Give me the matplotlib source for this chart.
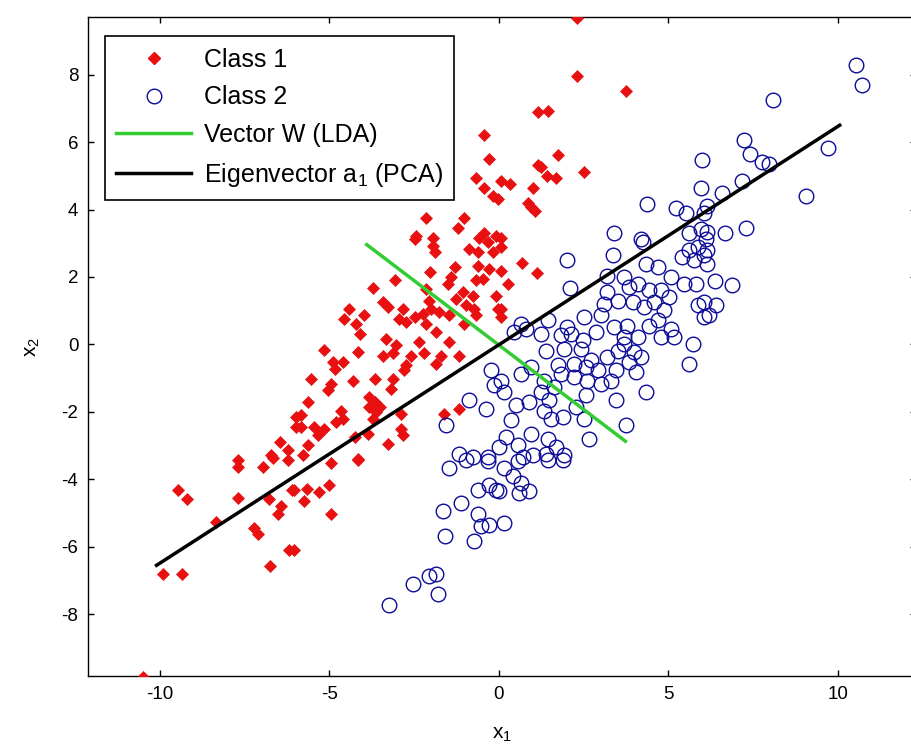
"""LDA vs PCA projection directions on two Gaussian classes."""
import matplotlib
matplotlib.use("Agg")
import matplotlib.pyplot as plt
from matplotlib.lines import Line2D

plt.rcParams["font.family"] = ["Liberation Sans", "DejaVu Sans"]
plt.rcParams["mathtext.default"] = "regular"
plt.rcParams["axes.unicode_minus"] = False

# Class 1 (red diamonds)
class1_x = [
    -0.43, -0.28, -0.68, -0.43, -0.19, -0.04, 0.06, -2.15, -1.02, -1.22, -2.45, -1.95, -0.43, -0.58, -0.09,
    2.30, 2.30, 3.74, 1.16, 1.46, 1.75, 1.14, 1.24, 2.50, 1.41, 1.68, 0.34, 0.99, 0.87, 0.94, 1.06, 0.06,
    0.06, 0.06, 0.67, 1.12, 0.28, 0.06, 0.06,
    -2.49, -1.95, -1.90, -0.87, -0.63, -0.33, -0.19, -0.63, -0.28, -1.31, -1.41, -2.03, -1.51, -0.68, -0.48,
    -3.08, -3.72, -2.15, -1.07, -1.27, -0.78, -0.09, -3.43, -3.28, -2.84, -2.05, -2.00, -1.76, -2.25, -0.97,
    -0.73, -0.04, -1.46, -0.68, -4.41, -4.56, -3.97, -4.21, -2.94, -2.74, -2.49, -2.15, -1.86, -1.02, -4.11,
    -3.33, -2.35, -3.04, -1.46, -1.17, -5.15, -4.16, -3.43, -3.13, -2.59, -2.20, -1.71, -1.86, -2.74, -2.79,
    -4.90, -4.61, -4.85, -5.54, -4.31, -3.67, -3.13, -4.95, -5.05, -3.18, -3.82, -3.67, -3.52, -3.82, -5.64,
    -4.66, -4.61, -5.84, -3.62, -3.72, -2.89, -1.61, -1.17, -4.80, -5.15, -5.44, -5.84, -5.34, -2.89, -2.84,
    -3.87, -4.26, -3.28, -5.64, -5.79, -4.16,
    -6.47, -6.23, -6.72, -5.98, -5.98, -7.70,
    -4.95, -4.16, -6.03, -5.67, -5.31, -5.02, -5.76, -4.95, -6.03,
    -10.50, -7.71, -6.96, -6.67, -6.23, -9.48, -9.20, -7.71, -8.34, -6.77, -6.11, -6.43, -6.53, -7.21, -7.11,
    -6.18, -6.74, -9.91, -9.34,
]
class1_y = [
    6.22, 5.50, 4.94, 4.64, 4.39, 4.30, 4.84, 3.75, 3.75, 3.45, 3.21, 3.16, 3.31, 3.16, 3.21,
    9.68, 7.97, 7.51, 6.88, 6.93, 5.63, 5.33, 5.26, 5.11, 4.99, 4.94, 4.76, 4.64, 4.20, 4.08, 3.95, 3.16,
    2.88, 2.19, 2.41, 2.11, 1.80, 1.06, 0.81,
    3.13, 2.93, 2.73, 2.83, 2.73, 3.03, 2.73, 2.34, 2.24, 2.29, 1.99, 2.14, 1.80, 1.90, 1.94,
    1.91, 1.68, 1.65, 1.55, 1.35, 1.45, 1.45, 1.25, 1.10, 1.06, 1.30, 1.06, 0.96, 0.91, 1.16,
    1.06, 1.06, 0.86, 0.86, 1.06, 0.76, 0.86, 0.61, 0.76, 0.66, 0.81, 0.61, 0.36, 0.61, 0.31,
    0.17, 0.07, -0.03, 0.07, -0.33, -0.16, -0.23, -0.33, -0.26, -0.33, -0.26, -0.33, -0.57, -0.62, -0.77,
    -0.52, -0.52, -0.72, -1.02, -1.07, -1.02, -1.02, -1.17, -1.36, -1.32, -1.56, -1.71, -1.86, -1.86, -1.71,
    -1.96, -2.20, -2.10, -2.01, -2.20, -2.06, -2.06, -1.91, -2.30, -2.50, -2.45, -2.45, -2.70, -2.50, -2.70,
    -2.65, -2.75, -2.95, -2.99, -3.29, -3.39,
    -2.89, -3.14, -3.29, -2.15, -2.45, -3.44,
    -3.52, -3.42, -4.31, -4.28, -4.38, -4.16, -4.65, -5.03, -6.09,
    -9.87, -3.64, -3.64, -3.37, -3.42, -4.33, -4.57, -4.55, -5.27, -4.57, -4.31, -4.80, -5.03, -5.44, -5.62,
    -6.09, -6.56, -6.81, -6.81,
]

# Class 2 (blue open circles)
class2_x = [
    6.00, 5.95, 4.38, 5.22, 5.51, 3.40, 4.19, 5.61, 5.95,
    10.52, 10.70, 8.09, 7.23, 7.41, 7.77, 7.95, 9.69, 7.16, 6.59, 9.05, 6.15, 6.05, 6.15, 6.67, 7.28,
    6.10, 6.15, 6.15, 6.38, 6.87, 6.40, 6.20, 6.05,
    2.00, 3.35, 2.10, 4.24, 4.33, 4.68, 5.07, 5.41, 5.76, 5.61, 5.86, 6.05,
    3.20, 3.70, 3.84, 4.09, 4.43, 4.77, 5.02, 5.46, 5.81, 5.86, 6.05,
    3.20, 3.50, 3.11, 3.94, 4.29, 4.58, 4.87, 4.68, 4.43, 5.07, 4.77, 5.17, 5.71, 5.61,
    3.01, 3.40, 3.79, 4.09, 3.70, 2.52, 2.86, 2.47, 2.12, 1.83, 2.02, 1.44, 1.24, 1.39, 0.65, 0.80, 0.45,
    1.93, 2.42, 2.71, 3.20, 3.50, 3.70, 3.99, 4.19, 3.84, 4.04, 3.45, 3.30, 2.91, 2.56, 2.22, 1.73, 1.83,
    2.22, 2.61, 3.01, 2.56, 3.45, 4.33, 2.27, 2.52, 2.66, 3.74,
    0.94, 0.65, 1.34, 1.63, 1.24, 1.49, 1.34, 1.53, 1.88, 0.90, 0.50, 0.35, 0.16, 0.06, 0.21, 0.94, 0.55,
    1.44, 1.68, 1.39, 1.93, 0.99, 0.70,
    0.55, 0.16, 0.40, 0.65, 0.90, 0.60, 1.44, 1.88, 0.01, 0.14,
    -1.46, -0.97, -0.33, -0.63, -0.28, -0.09, -1.12, -1.64, -0.63, -0.53, -0.28, -0.73, -1.58, -2.54, -2.05,
    -1.86, -1.81, -3.23,
    -1.56, -0.87, -0.38, -0.24, -0.14, -1.17, -0.78, -0.33, 0.01,
]
class2_y = [
    5.48, 4.64, 4.15, 4.05, 3.90, 3.31, 3.13, 3.31, 3.41,
    8.28, 7.70, 7.26, 6.05, 5.66, 5.40, 5.36, 5.83, 4.84, 4.49, 4.39, 4.10, 3.90, 3.33, 3.31, 3.44,
    3.13, 2.79, 2.39, 1.87, 1.77, 1.16, 0.86, 1.25,
    2.51, 2.64, 1.68, 3.03, 2.39, 2.29, 1.99, 2.59, 2.49, 2.79, 2.88, 2.64,
    2.04, 1.99, 1.70, 1.80, 1.60, 1.60, 1.40, 1.80, 1.80, 1.16, 0.81,
    1.55, 1.30, 1.20, 1.25, 1.10, 1.25, 1.01, 0.71, 0.56, 0.46, 0.22, 0.22, 0.02, -0.57,
    0.86, 0.51, 0.56, 0.22, 0.22, 0.81, 0.36, 0.12, 0.31, 0.28, 0.51, 0.71, 0.31, -0.18, 0.61, 0.46, 0.36,
    -0.13, -0.13, -0.47, -0.38, -0.18, 0.02, -0.23, -0.38, -0.52, -0.82, -0.77, -1.07, -0.77, -0.67, -0.57,
    -0.62, -0.87,
    -0.97, -1.07, -1.17, -1.51, -1.66, -1.41, -1.86, -2.20, -2.80, -2.40,
    -0.67, -0.87, -1.07, -1.26, -1.41, -1.66, -1.96, -2.20, -2.15, -1.71, -1.81, -2.25, -1.41, -1.07, -2.75,
    -2.65, -2.99, -2.80, -3.04, -3.24, -3.29, -3.29, -3.34,
    -3.47, -3.67, -3.91, -4.11, -4.36, -4.41, -3.42, -3.42, -4.36, -5.29,
    -3.67, -3.42, -3.47, -4.31, -4.16, -4.31, -4.70, -4.93, -5.03, -5.39, -5.35, -5.84, -5.69, -7.10, -6.87,
    -6.81, -7.40, -7.73,
    -2.40, -1.66, -1.91, -0.77, -1.21, -3.24, -3.34, -3.34, -3.04,
]

# Direction lines: LDA vector W and first PCA eigenvector
lda_x = [-3.90, 3.73]
lda_y = [2.96, -2.87]
pca_x = [-10.10, 10.05]
pca_y = [-6.55, 6.50]

red = "#e81010"
blue = "#0c0c98"


def main():
    fig = plt.figure(figsize=(9.12, 7.5), dpi=100)
    ax = fig.add_axes([88 / 912, 73.7 / 750, 828 / 912, 659 / 750])

    ax.plot(class1_x, class1_y, linestyle="none", marker="D", ms=6.5,
            mfc=red, mec=red, mew=0.5, zorder=3)
    ax.plot(class2_x, class2_y, linestyle="none", marker="o", ms=10.5,
            mfc="none", mec=blue, mew=1.0, zorder=3)
    ax.plot(lda_x, lda_y, color="#33cc33", lw=2.5, zorder=4)
    ax.plot(pca_x, pca_y, color="black", lw=2.5, zorder=4)

    ax.set_xlim(-12.12, 12.3)
    ax.set_ylim(-9.84, 9.70)
    ax.set_xticks([-10, -5, 0, 5, 10])
    ax.set_yticks([-8, -6, -4, -2, 0, 2, 4, 6, 8])
    ax.tick_params(direction="in", length=4, width=1, top=True, right=True,
                   labelsize=13.5, colors="black", pad=7)
    for sp in ax.spines.values():
        sp.set_linewidth(1.0)

    ax.set_xlabel("x$_{1}$", fontsize=15, labelpad=16)
    ax.set_ylabel("x$_{2}$", fontsize=15, labelpad=14)

    handles = [
        Line2D([], [], linestyle="none", marker="D", ms=6.5, mfc=red, mec=red),
        Line2D([], [], linestyle="none", marker="o", ms=10.5, mfc="none", mec=blue),
        Line2D([], [], color="#33cc33", lw=2.5),
        Line2D([], [], color="black", lw=2.5),
    ]
    labels = ["Class 1", "Class 2", "Vector W (LDA)", "Eigenvector a$_{1}$ (PCA)"]
    leg = ax.legend(handles, labels, loc="upper left", bbox_to_anchor=(0.0205, 0.971),
                    borderaxespad=0, fontsize=18, fancybox=False, framealpha=1,
                    edgecolor="black", handlelength=3.0, labelspacing=0.55,
                    borderpad=0.45, handletextpad=0.5)
    leg.get_frame().set_linewidth(1.2)

    fig.savefig("out.png", dpi=100)


if __name__ == "__main__":
    main()
